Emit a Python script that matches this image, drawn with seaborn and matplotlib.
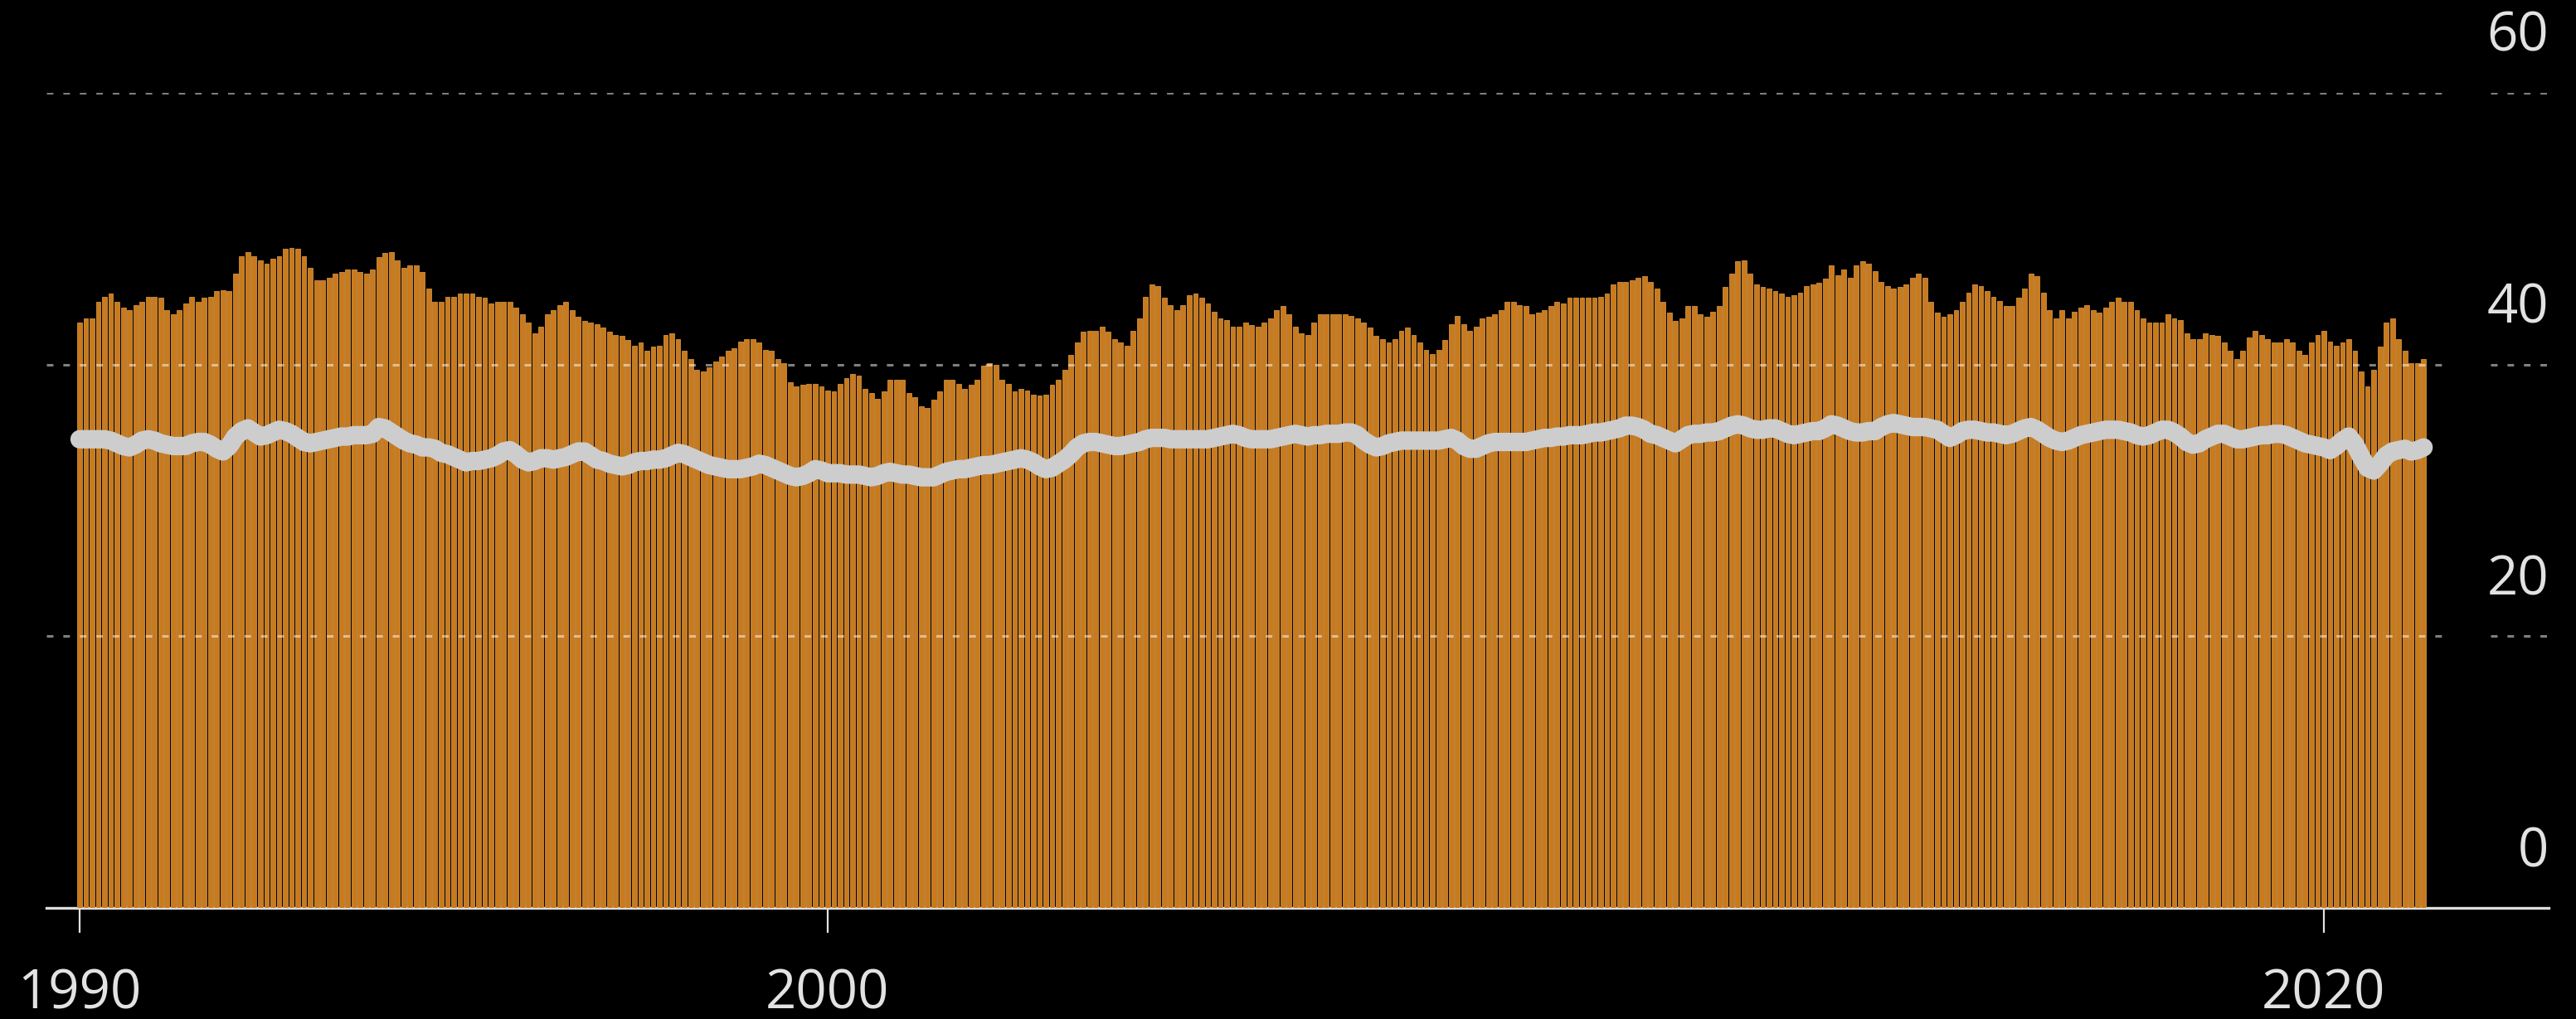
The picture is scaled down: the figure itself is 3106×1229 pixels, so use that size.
import numpy as np
import pandas as pd
import matplotlib
matplotlib.use("Agg")
import matplotlib.pyplot as plt
import matplotlib.transforms as mtransforms
import seaborn as sns

# ---------------- data (monthly, Jan 1990 onward) ----------------
bar_values = [
    43.1,43.4,43.4,44.6,45.0,45.2,44.6,44.2,44.0,44.4,
    44.6,45.0,45.0,44.9,44.0,43.7,44.0,44.5,45.0,44.6,
    44.9,45.0,45.4,45.5,45.4,46.7,48.0,48.3,48.0,47.7,
    47.4,47.8,48.0,48.5,48.6,48.5,48.0,47.1,46.2,46.2,
    46.4,46.7,46.8,47.0,47.0,46.8,46.7,47.0,47.9,48.2,
    48.3,47.7,47.1,47.3,47.3,46.8,45.6,44.6,44.6,45.0,
    45.0,45.2,45.2,
    45.2,45.0,44.9,44.5,44.6,44.6,44.6,44.2,43.7,43.1,
    42.3,42.8,43.7,44.0,44.4,44.6,44.0,43.5,43.2,43.1,
    43.0,42.7,42.4,42.2,42.1,41.8,41.4,41.6,41.0,41.3,
    41.4,42.2,42.3,41.9,41.0,40.4,39.6,39.5,39.8,40.2,
    40.6,41.0,41.2,41.7,41.9,41.9,41.6,41.1,41.0,40.4,
    40.1,38.7,38.4,38.5,38.6,38.6,38.4,38.1,38.0,38.6,
    39.0,39.3,39.2,
    38.2,37.9,37.5,38.0,38.9,38.9,38.9,37.9,37.6,36.9,
    36.8,37.4,38.0,38.9,38.9,38.6,38.2,38.5,38.9,39.9,
    40.1,40.0,38.9,38.6,38.0,38.2,38.1,37.8,37.7,37.8,
    38.5,38.9,39.6,40.7,41.6,42.4,42.5,42.5,42.8,42.4,
    41.9,41.6,41.4,42.5,43.4,45.0,45.9,45.8,44.9,44.4,
    44.0,44.4,45.1,45.2,44.9,44.5,43.9,43.4,43.3,42.8,
    42.8,43.1,42.9,
    42.8,43.1,43.4,44.0,44.3,43.7,42.8,42.3,42.2,43.1,
    43.7,43.7,43.7,43.7,43.7,43.6,43.4,43.1,42.7,42.1,
    41.9,41.6,41.9,42.5,42.7,42.2,41.6,41.1,40.8,41.1,
    41.8,43.0,43.6,43.0,42.5,42.8,43.4,43.5,43.7,44.0,
    44.6,44.6,44.4,44.3,43.7,43.8,44.0,44.3,44.6,44.5,
    44.9,44.9,44.9,44.9,44.9,45.0,45.2,45.9,46.1,46.1,
    46.2,46.4,46.5,
    46.1,45.6,44.6,43.8,43.2,43.4,44.3,44.3,43.7,43.5,
    43.9,44.3,45.7,46.7,47.6,47.7,46.7,45.9,45.7,45.6,
    45.4,45.2,45.0,45.1,45.3,45.8,45.9,46.0,46.3,47.3,
    46.6,47.0,46.4,47.3,47.6,47.4,46.9,46.1,45.8,45.6,
    45.7,45.9,46.4,46.7,46.4,44.6,43.8,43.5,43.7,44.0,
    44.6,45.3,45.9,45.8,45.4,45.0,44.7,44.3,44.3,44.9,
    45.6,46.7,
    46.5,45.3,44.0,43.4,44.0,43.4,43.9,44.2,44.4,44.0,
    43.8,44.2,44.6,44.9,44.6,44.6,44.0,43.4,43.1,43.1,
    43.1,43.7,43.4,43.3,42.3,41.9,41.9,42.3,42.2,42.1,
    41.6,41.0,40.4,41.0,42.0,42.5,42.2,41.9,41.6,41.6,
    41.9,41.6,41.0,40.7,41.6,42.2,42.5,41.7,41.4,41.6,
    41.9,41.0,39.5,38.4,39.6,41.3,43.1,43.4,41.9,41.0,
    40.1,40.1,40.4,
]

line_values = [
    34.5,34.5,34.5,34.5,34.5,34.4,34.2,34.0,33.9,34.1,
    34.4,34.5,34.4,34.2,34.1,34.0,34.0,34.0,34.2,34.3,
    34.3,34.1,33.8,33.6,34.0,34.7,35.1,35.3,35.0,34.7,
    34.8,35.0,35.2,35.1,34.9,34.6,34.3,34.2,34.3,34.4,
    34.5,34.6,34.7,34.7,34.8,34.8,34.8,34.9,35.4,35.3,
    35.0,34.7,34.4,34.2,34.1,33.9,33.9,33.8,33.5,33.4,
    33.2,33.0,32.8,
    32.9,32.9,33.0,33.1,33.3,33.6,33.7,33.4,33.0,32.8,
    32.9,33.1,33.1,33.0,33.1,33.2,33.4,33.6,33.6,33.3,
    33.0,32.9,32.7,32.6,32.5,32.6,32.8,32.9,32.9,33.0,
    33.0,33.1,33.3,33.5,33.4,33.2,33.0,32.8,32.6,32.5,
    32.4,32.3,32.3,32.3,32.4,32.5,32.7,32.6,32.4,32.2,
    32.0,31.8,31.7,31.8,32.0,32.3,32.2,32.0,32.0,32.0,
    31.9,31.9,31.9,
    31.8,31.7,31.8,32.0,32.1,32.0,31.9,31.9,31.8,31.7,
    31.7,31.7,31.9,32.1,32.2,32.3,32.3,32.4,32.5,32.6,
    32.6,32.7,32.8,32.9,33.0,33.1,33.0,32.8,32.5,32.3,
    32.4,32.7,33.0,33.4,33.9,34.2,34.3,34.3,34.2,34.1,
    34.0,34.0,34.1,34.2,34.3,34.5,34.6,34.6,34.6,34.5,
    34.5,34.5,34.5,34.5,34.5,34.5,34.6,34.7,34.8,34.9,
    34.8,34.6,34.5,
    34.5,34.5,34.5,34.6,34.7,34.8,34.9,34.8,34.7,34.8,
    34.8,34.9,34.9,34.9,35.0,35.0,34.8,34.4,34.1,33.9,
    34.0,34.2,34.3,34.4,34.4,34.4,34.4,34.4,34.4,34.4,
    34.5,34.6,34.4,34.0,33.8,33.8,34.0,34.2,34.3,34.3,
    34.3,34.3,34.3,34.3,34.4,34.5,34.6,34.6,34.7,34.7,
    34.8,34.8,34.8,34.9,35.0,35.0,35.1,35.2,35.3,35.5,
    35.5,35.4,35.2,
    34.9,34.8,34.6,34.4,34.2,34.5,34.8,34.9,34.9,35.0,
    35.0,35.1,35.3,35.5,35.6,35.5,35.3,35.2,35.2,35.3,
    35.3,35.1,34.9,34.8,34.9,35.0,35.1,35.1,35.3,35.6,
    35.5,35.3,35.1,35.0,35.0,35.1,35.1,35.4,35.6,35.7,
    35.6,35.5,35.4,35.4,35.4,35.3,35.2,34.9,34.6,34.8,
    35.1,35.2,35.2,35.1,35.0,35.0,34.9,34.8,34.9,35.1,
    35.3,35.4,
    35.2,34.9,34.6,34.4,34.3,34.4,34.6,34.8,34.9,35.0,
    35.1,35.2,35.2,35.2,35.1,35.0,34.8,34.7,34.8,35.0,
    35.2,35.2,35.0,34.7,34.3,34.1,34.2,34.5,34.7,34.9,
    34.9,34.7,34.5,34.5,34.6,34.7,34.8,34.8,34.9,34.9,
    34.8,34.6,34.4,34.2,34.1,34.0,33.9,33.7,34.0,34.4,
    34.7,34.1,33.2,32.4,32.2,32.7,33.3,33.6,33.7,33.8,
    33.6,33.7,33.9,
]

start_month = "1990-01"
x_ticks = [1990, 2000, 2020]
x_tick_labels = ["1990", "2000", "2020"]
y_ticks = [0, 20, 40, 60]
y_tick_labels = ["0", "20", "40", "60"]

# ---------------- frame ----------------
dates = pd.date_range(start_month, periods=len(bar_values), freq="MS")
dec_year = dates.year + (dates.month - 1) / 12.0
df = pd.DataFrame({"t": np.round(dec_year, 6), "bar": bar_values, "line": line_values})

# ---------------- style ----------------
sns.set_theme(style="dark")
plt.rcParams["font.family"] = ["Open Sans", "DejaVu Sans"]
BG = "#000000"
TXT = "#e2e2e2"
BAR = "#c97a1c"
BAR_EDGE = "#e3a04e"
LINE = "#cdcdcd"

W, H = 3106, 1229
DPI = 100
fig = plt.figure(figsize=(W / DPI, H / DPI), dpi=DPI, facecolor=BG)
ax_l, ax_r, ax_b, ax_t = 56, 3073, 1095, 112
ax = fig.add_axes([ax_l / W, (H - ax_b) / H, (ax_r - ax_l) / W, (ax_b - ax_t) / H])
ax.set_facecolor(BG)

sns.barplot(data=df, x="t", y="bar", native_scale=True, width=0.78,
            color=BAR, saturation=1, errorbar=None, edgecolor=BAR_EDGE,
            linewidth=0.5, ax=ax, zorder=2)

sns.lineplot(data=df, x="t", y="line", color=LINE, linewidth=16,
             estimator=None, sort=False, ax=ax, zorder=5,
             solid_capstyle="round", solid_joinstyle="round")

ax.set_xlim(1989.557, 2023.005)
ax.set_ylim(0, 60)

# dotted gridlines (drawn over bars), with a gap before the labels
gap_start, gap_end = 2021.64, 2022.23
xl = ax.get_xlim()
for v in y_ticks[1:]:
    for a, b in [(xl[0], gap_start), (gap_end, xl[1])]:
        ax.plot([a, b], [v, v], color="#ffffff", alpha=0.5, lw=2.2,
                linestyle=(0, (2.6, 3.9)), zorder=3, solid_capstyle="butt")

# right-side y labels, above gridlines
off = mtransforms.ScaledTranslation(0, 67 / DPI, fig.dpi_scale_trans)
for v, lab in zip(y_ticks, y_tick_labels):
    ax.text(1.0, v, lab, transform=ax.get_yaxis_transform() + off,
            ha="right", va="center", color=TXT, fontsize=47, clip_on=False)
ax.set_yticks([])
ax.set_ylabel("")
ax.set_xlabel("")

ax.set_xticks(x_ticks)
ax.set_xticklabels(x_tick_labels)
ax.tick_params(axis="x", colors=TXT, labelcolor=TXT, labelsize=47,
               length=21.6, width=1.6, direction="out", pad=30, bottom=True)
ax.grid(False)
for s in ["top", "left", "right"]:
    ax.spines[s].set_visible(False)
ax.spines["bottom"].set_color("#dcdcdc")
ax.spines["bottom"].set_linewidth(2.4)
ax.spines["bottom"].set_zorder(1)

fig.savefig("out.png", dpi=DPI, facecolor=BG)
